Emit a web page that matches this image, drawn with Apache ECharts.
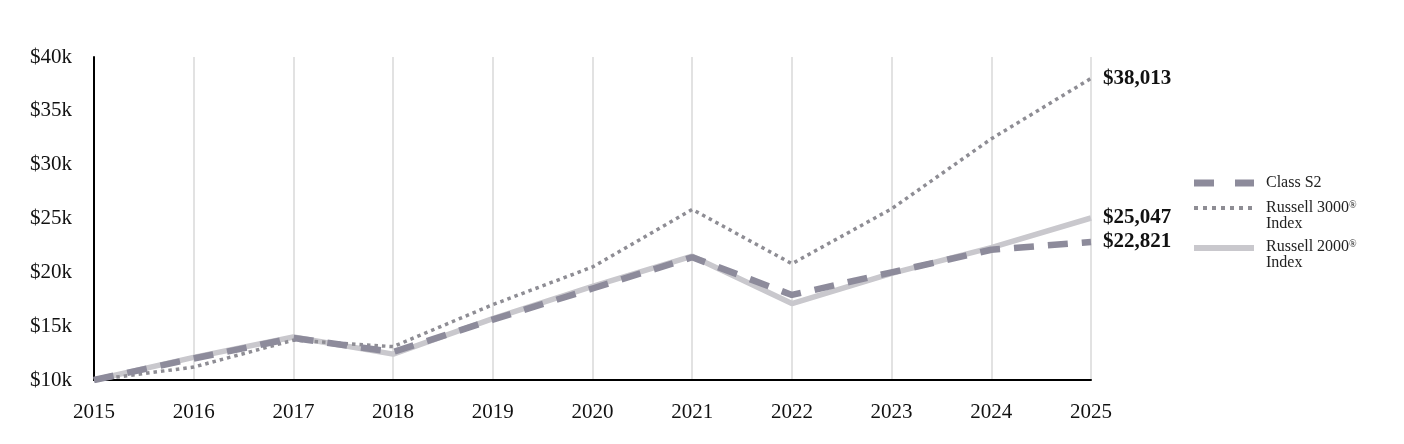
<!DOCTYPE html>
<html><head><meta charset="utf-8">
<script src="https://cdn.jsdelivr.net/npm/echarts@6/dist/echarts.min.js"></script>
<style>html,body{margin:0;padding:0;background:#fff}#c{width:1404px;height:444px}</style>
</head><body><div id="c"></div>
<script>
const years = ['2015','2016','2017','2018','2019','2020','2021','2022','2023','2024','2025'];
const classS2 = [10000,12000,13900,12600,15600,18500,21400,17900,20000,22100,22821];
const russell3000 = [10000,11200,13700,13100,17000,20500,25850,20800,25900,32400,38013];
const russell2000 = [10000,12100,14000,12400,15700,18700,21500,17100,19900,22300,25047];
const seriesNames = ['Class S2','Russell 3000®\nIndex','Russell 2000®\nIndex'];

const font = '"Liberation Serif","Times New Roman",serif';
const ext = 'M0,0h0.01v0.01h-0.01Z M66.99,19.99h0.01v0.01h-0.01Z ';
const iconDash = 'path://' + ext + 'M0,6.5h20v7h-20Z M41,6.5h19v7h-19Z';
let dots = '';
for (let i = 0; i < 7; i++) dots += 'M' + (i * 9) + ',0h4v4h-4Z ';
const iconDot = 'path://' + ext + dots;
const iconSolid = 'path://' + ext + 'M0,0h60v6h-60Z';

const chart = echarts.init(document.getElementById('c'));
const fmtEnd = p => '$' + p.value.toLocaleString('en-US');
const endLbl = {show:true,formatter:fmtEnd,fontFamily:font,fontSize:21,fontWeight:'bold',color:'#111',distance:12};
chart.setOption({
  animation:false,
  textStyle:{fontFamily:font},
  grid:{left:94,right:313,top:57,bottom:64,containLabel:false},
  legend:{
    orient:'vertical', left:1189, top:168, itemWidth:67, itemHeight:20, itemGap:7,
    itemStyle:{borderWidth:0},
    textStyle:{fontFamily:font,fontSize:16,color:'#222',lineHeight:16,
      rich:{s:{fontSize:10,verticalAlign:'top',fontFamily:font,color:'#222',lineHeight:10}}},
    formatter: n => n.replace('®','{s|®}'),
    data:[
      {name:seriesNames[0],icon:iconDash},
      {name:seriesNames[1],icon:iconDot},
      {name:seriesNames[2],icon:iconSolid}
    ]
  },
  xAxis:{type:'category',data:years,boundaryGap:false,
    axisLine:{lineStyle:{color:'#000',width:2}},axisTick:{show:false},
    axisLabel:{fontFamily:font,fontSize:21,color:'#111',margin:22},
    splitLine:{show:true,lineStyle:{color:'#d9d9d9',width:1.5}}},
  yAxis:{type:'value',min:10000,max:40000,interval:5000,
    axisLine:{show:true,lineStyle:{color:'#000',width:2}},axisTick:{show:false},
    splitLine:{show:false},
    axisLabel:{fontFamily:font,fontSize:21,color:'#111',margin:22,
      formatter:v=>'$'+(v/1000)+'k'}},
  series:[
    {name:seriesNames[0],type:'line',data:classS2,symbol:'none',z:4,
      lineStyle:{color:'#8d8b9b',width:6.5,type:[20,14]},itemStyle:{color:'#8d8b9b'},
      endLabel:endLbl},
    {name:seriesNames[1],type:'line',data:russell3000,symbol:'none',z:3,
      lineStyle:{color:'#8e8d94',width:3.5,type:[3.5,4]},itemStyle:{color:'#8e8d94'},
      endLabel:endLbl},
    {name:seriesNames[2],type:'line',data:russell2000,symbol:'none',z:2,
      lineStyle:{color:'#c9c8cd',width:5.5},itemStyle:{color:'#c9c8cd'},
      endLabel:endLbl}
  ]
});
</script></body></html>
